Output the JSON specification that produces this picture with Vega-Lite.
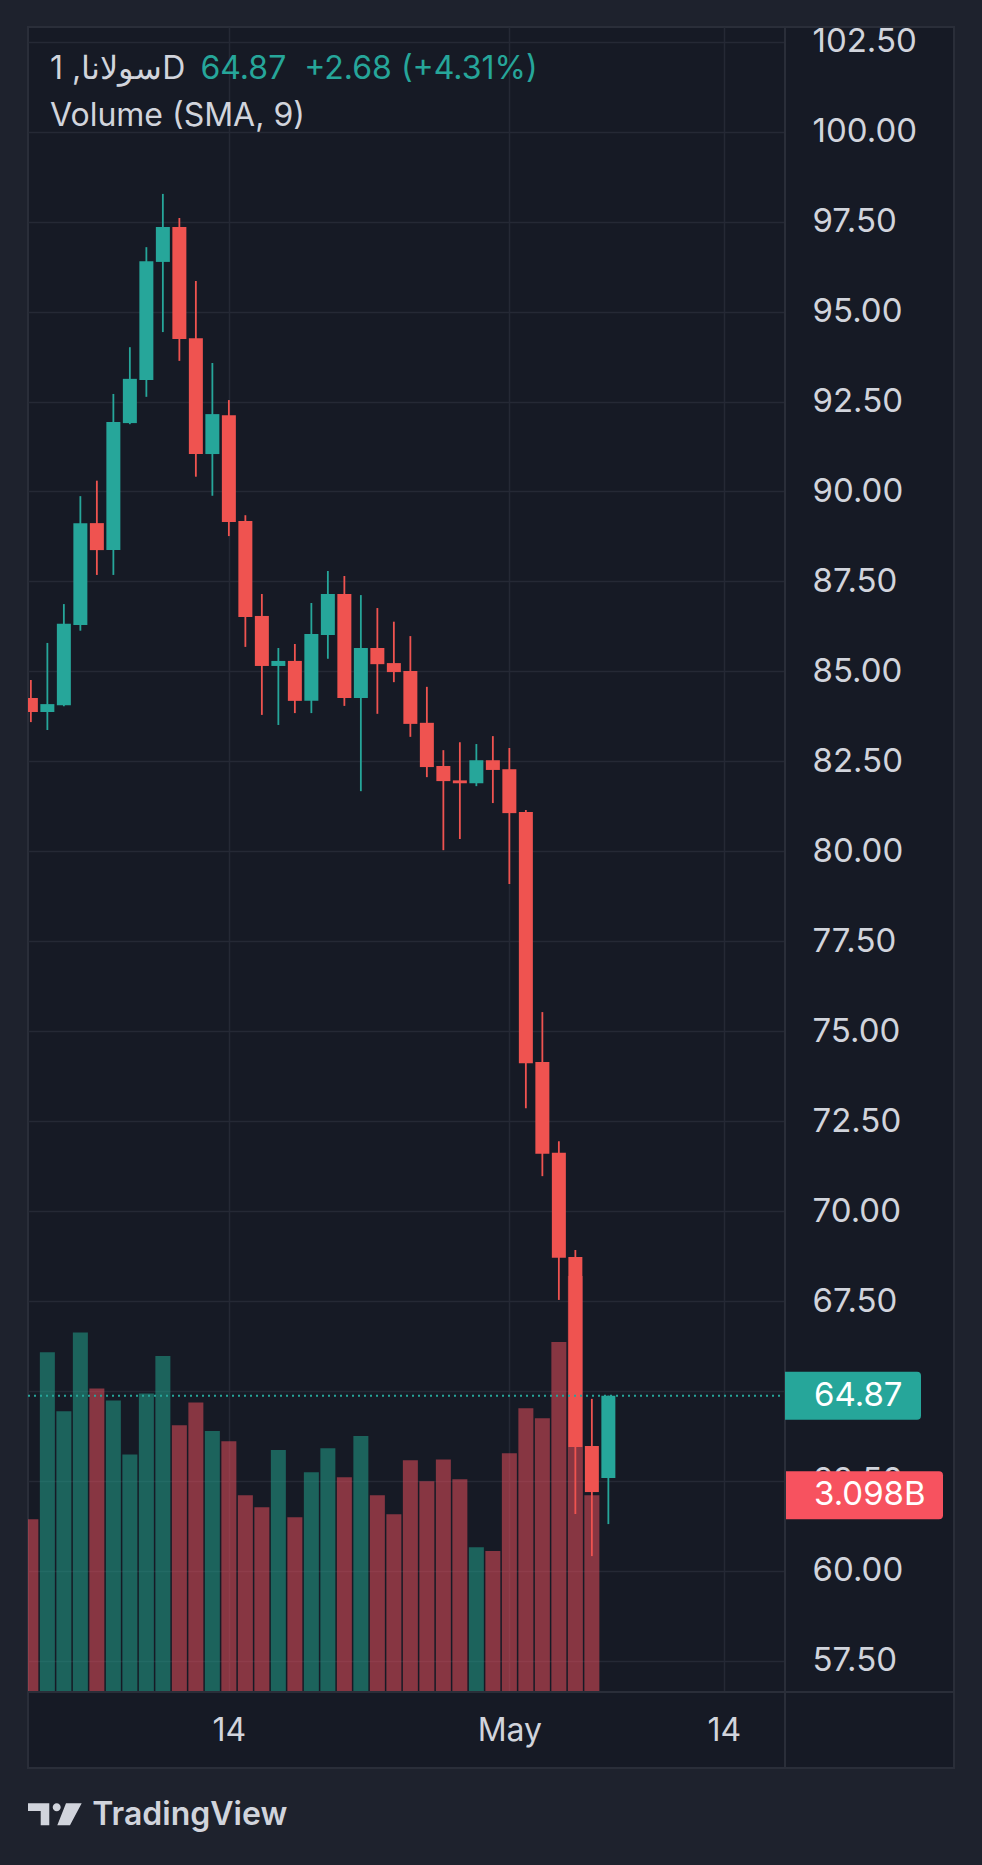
{
  "$schema": "https://vega.github.io/schema/vega-lite/v6.json",
  "description": "Solana daily candles with volume, dark TradingView style",
  "width": 926,
  "height": 1741,
  "autosize": {"type": "none"},
  "padding": {"left": 28, "top": 27, "right": 28, "bottom": 97},
  "background": "#1e222d",
  "view": {"fill": "#161a25", "stroke": "#2a2e39", "strokeWidth": 2},
  "datasets": {
    "candles": [
      {"date": "2025-04-02", "open": 84.26, "high": 84.76, "low": 83.59, "close": 83.87, "volume": 2720000000},
      {"date": "2025-04-03", "open": 83.87, "high": 85.79, "low": 83.37, "close": 84.09, "volume": 5350000000},
      {"date": "2025-04-04", "open": 84.06, "high": 86.87, "low": 84.03, "close": 86.32, "volume": 4420000000},
      {"date": "2025-04-05", "open": 86.29, "high": 89.87, "low": 86.13, "close": 89.12, "volume": 5660000000},
      {"date": "2025-04-06", "open": 89.12, "high": 90.3, "low": 87.68, "close": 88.37, "volume": 4780000000},
      {"date": "2025-04-07", "open": 88.37, "high": 92.71, "low": 87.68, "close": 91.93, "volume": 4590000000},
      {"date": "2025-04-08", "open": 91.9, "high": 94.01, "low": 91.87, "close": 93.13, "volume": 3740000000},
      {"date": "2025-04-09", "open": 93.1, "high": 96.79, "low": 92.63, "close": 96.4, "volume": 4700000000},
      {"date": "2025-04-10", "open": 96.38, "high": 98.27, "low": 94.43, "close": 97.35, "volume": 5290000000},
      {"date": "2025-04-11", "open": 97.35, "high": 97.6, "low": 93.63, "close": 94.24, "volume": 4200000000},
      {"date": "2025-04-12", "open": 94.26, "high": 95.85, "low": 90.41, "close": 91.04, "volume": 4560000000},
      {"date": "2025-04-13", "open": 91.04, "high": 93.57, "low": 89.88, "close": 92.15, "volume": 4110000000},
      {"date": "2025-04-14", "open": 92.12, "high": 92.54, "low": 88.76, "close": 89.15, "volume": 3950000000},
      {"date": "2025-04-15", "open": 89.18, "high": 89.34, "low": 85.68, "close": 86.51, "volume": 3100000000},
      {"date": "2025-04-16", "open": 86.54, "high": 87.15, "low": 83.79, "close": 85.15, "volume": 2910000000},
      {"date": "2025-04-17", "open": 85.15, "high": 85.65, "low": 83.51, "close": 85.29, "volume": 3810000000},
      {"date": "2025-04-18", "open": 85.29, "high": 85.76, "low": 83.84, "close": 84.18, "volume": 2750000000},
      {"date": "2025-04-19", "open": 84.18, "high": 86.9, "low": 83.84, "close": 86.04, "volume": 3460000000},
      {"date": "2025-04-20", "open": 86.01, "high": 87.79, "low": 85.35, "close": 87.15, "volume": 3840000000},
      {"date": "2025-04-21", "open": 87.15, "high": 87.65, "low": 84.04, "close": 84.26, "volume": 3380000000},
      {"date": "2025-04-22", "open": 84.26, "high": 87.12, "low": 81.67, "close": 85.65, "volume": 4030000000},
      {"date": "2025-04-23", "open": 85.65, "high": 86.76, "low": 83.82, "close": 85.2, "volume": 3100000000},
      {"date": "2025-04-24", "open": 85.23, "high": 86.38, "low": 84.7, "close": 84.98, "volume": 2800000000},
      {"date": "2025-04-25", "open": 85.01, "high": 85.98, "low": 83.18, "close": 83.54, "volume": 3650000000},
      {"date": "2025-04-26", "open": 83.57, "high": 84.57, "low": 82.06, "close": 82.34, "volume": 3320000000},
      {"date": "2025-04-27", "open": 82.37, "high": 82.81, "low": 80.03, "close": 81.95, "volume": 3660000000},
      {"date": "2025-04-28", "open": 81.97, "high": 83.03, "low": 80.34, "close": 81.89, "volume": 3350000000},
      {"date": "2025-04-29", "open": 81.89, "high": 82.98, "low": 81.81, "close": 82.53, "volume": 2280000000},
      {"date": "2025-04-30", "open": 82.53, "high": 83.2, "low": 81.34, "close": 82.26, "volume": 2220000000},
      {"date": "2025-05-01", "open": 82.28, "high": 82.87, "low": 79.09, "close": 81.06, "volume": 3760000000},
      {"date": "2025-05-02", "open": 81.09, "high": 81.15, "low": 72.86, "close": 74.11, "volume": 4470000000},
      {"date": "2025-05-03", "open": 74.14, "high": 75.53, "low": 70.97, "close": 71.59, "volume": 4310000000},
      {"date": "2025-05-04", "open": 71.62, "high": 71.94, "low": 67.53, "close": 68.7, "volume": 5510000000},
      {"date": "2025-05-05", "open": 68.72, "high": 68.92, "low": 61.58, "close": 63.44, "volume": 6550000000},
      {"date": "2025-05-06", "open": 63.47, "high": 64.78, "low": 60.41, "close": 62.19, "volume": 3098000000},
      {"date": "2025-05-07", "open": 62.58, "high": 64.87, "low": 61.3, "close": 64.87, "volume": null}
    ]
  },
  "data": {"name": "candles"},
  "resolve": {"scale": {"y": "independent"}},
  "layer": [
    {
      "layer": [
        {
          "mark": {"type": "bar", "size": 15, "opacity": 0.5, "clip": true},
          "encoding": {
            "x": {
              "field": "date", "type": "temporal", "axis": null,
              "scale": {
                "type": "utc", "nice": false, "padding": 0, "range": [0, 757],
                "domain": [
                  {"year": 2025, "month": 4, "date": 1, "hours": 19, "minutes": 50, "utc": true},
                  {"year": 2025, "month": 5, "date": 17, "hours": 16, "minutes": 56, "utc": true}
                ]
              }
            },
            "y": {
              "field": "volume", "type": "quantitative", "axis": null,
              "scale": {"domain": [0, 26220000000], "range": [1665, 0], "nice": false}
            },
            "color": {
              "condition": {"test": "datum.close >= datum.open", "value": "#22ab94"},
              "value": "#f7525f"
            }
          }
        },
        {
          "transform": [{"filter": "time(datum.date) == utc(2025, 4, 6)"}],
          "mark": {
            "type": "point", "filled": true, "opacity": 1, "strokeWidth": 0, "color": "#f7525f",
            "size": 24964,
            "shape": "M0,-0.304L1.949,-0.304Q2,-0.304 2,-0.253L2,0.253Q2,0.304 1.949,0.304L0,0.304Z"
          },
          "encoding": {
            "x": {"datum": {"year": 2025, "month": 5, "date": 17, "hours": 16, "minutes": 56, "utc": true}, "type": "temporal", "axis": null},
            "y": {"field": "volume", "type": "quantitative", "axis": null}
          }
        },
        {
          "transform": [
            {"filter": "time(datum.date) == utc(2025, 4, 6)"},
            {"calculate": "format(datum.volume / 1e9, '.3f') + 'B'", "as": "volume_label"}
          ],
          "mark": {"type": "text", "align": "left", "baseline": "middle", "dx": 29, "font": "Inter", "fontSize": 33, "color": "#ffffff"},
          "encoding": {
            "x": {"datum": {"year": 2025, "month": 5, "date": 17, "hours": 16, "minutes": 56, "utc": true}, "type": "temporal", "axis": null},
            "y": {"field": "volume", "type": "quantitative", "axis": null},
            "text": {"field": "volume_label"}
          }
        }
      ]
    },
    {
      "resolve": {"axis": {"x": "independent", "y": "independent"}},
      "layer": [
        {
          "mark": {"type": "rule", "strokeWidth": 1.8, "clip": true},
          "encoding": {
            "x": {
              "field": "date", "type": "temporal",
              "axis": {
                "orient": "top", "title": null, "labels": false, "ticks": false, "domain": false,
                "values": [
                  {"year": 2025, "month": 4, "date": 14, "utc": true},
                  {"year": 2025, "month": 5, "date": 1, "utc": true},
                  {"year": 2025, "month": 5, "date": 14, "utc": true}
                ],
                "grid": true, "gridColor": "#252935", "gridWidth": 1.5
              }
            },
            "y": {
              "field": "low", "type": "quantitative",
              "scale": {"domain": [56.633, 102.909], "range": [1665, 0], "nice": false, "zero": false},
              "axis": {
                "orient": "left", "title": null, "labels": false, "ticks": false, "domain": false,
                "values": [57.5, 60, 62.5, 65, 67.5, 70, 72.5, 75, 77.5, 80, 82.5, 85, 87.5, 90, 92.5, 95, 97.5, 100, 102.5],
                "grid": true, "gridColor": "#252935", "gridWidth": 1.5
              }
            },
            "y2": {"field": "high"},
            "color": {
              "condition": {"test": "datum.close >= datum.open", "value": "#26a69a"},
              "value": "#ef5350"
            }
          }
        },
        {
          "mark": {"type": "bar", "size": 14, "clip": true},
          "encoding": {
            "x": {
              "field": "date", "type": "temporal",
              "axis": {
                "orient": "bottom", "offset": -76, "title": null,
                "values": [
                  {"year": 2025, "month": 4, "date": 14, "utc": true},
                  {"year": 2025, "month": 5, "date": 1, "utc": true},
                  {"year": 2025, "month": 5, "date": 14, "utc": true}
                ],
                "labelExpr": "utcdate(datum.value) == 1 ? utcFormat(datum.value, '%b') : utcFormat(datum.value, '%-d')",
                "labelPadding": 38, "labelBaseline": "middle", "labelAlign": "center",
                "labelFlush": false, "labelOverlap": false, "labelFontSize": 32,
                "ticks": false, "domain": false, "grid": false
              }
            },
            "y": {
              "field": "open", "type": "quantitative",
              "axis": {
                "orient": "right", "offset": -169, "title": null,
                "values": [57.5, 60, 62.5, 67.5, 70, 72.5, 75, 77.5, 80, 82.5, 85, 87.5, 90, 92.5, 95, 97.5, 100, 102.5],
                "format": ".2f",
                "labelPadding": 27, "labelAlign": "left", "labelBaseline": "middle",
                "labelFlush": false, "labelOverlap": false,
                "ticks": false, "domain": false, "grid": false
              }
            },
            "y2": {"field": "close"},
            "color": {
              "condition": {"test": "datum.close >= datum.open", "value": "#26a69a"},
              "value": "#ef5350"
            }
          }
        },
        {
          "transform": [{"filter": "time(datum.date) == utc(2025, 4, 7)"}],
          "mark": {"type": "rule", "color": "#26a69a", "strokeWidth": 2, "strokeDash": [2, 4]},
          "encoding": {
            "x": {"datum": {"year": 2025, "month": 4, "date": 1, "hours": 19, "minutes": 50, "utc": true}, "type": "temporal", "axis": null},
            "x2": {"datum": {"year": 2025, "month": 5, "date": 17, "hours": 16, "minutes": 56, "utc": true}},
            "y": {"field": "close", "type": "quantitative", "axis": null}
          }
        },
        {
          "data": {"values": [{}]},
          "mark": {"type": "rule", "color": "#2a2e39", "strokeWidth": 2},
          "encoding": {
            "x": {"datum": {"year": 2025, "month": 5, "date": 17, "hours": 16, "minutes": 56, "utc": true}, "type": "temporal", "axis": null}
          }
        },
        {
          "data": {"values": [{}]},
          "mark": {"type": "rule", "color": "#2a2e39", "strokeWidth": 2},
          "encoding": {
            "y": {"datum": 56.633, "type": "quantitative", "axis": null}
          }
        },
        {
          "transform": [{"filter": "time(datum.date) == utc(2025, 4, 7)"}],
          "mark": {
            "type": "point", "filled": true, "opacity": 1, "strokeWidth": 0, "color": "#26a69a",
            "size": 18496,
            "shape": "M0,-0.353L1.941,-0.353Q2,-0.353 2,-0.294L2,0.294Q2,0.353 1.941,0.353L0,0.353Z"
          },
          "encoding": {
            "x": {"datum": {"year": 2025, "month": 5, "date": 17, "hours": 16, "minutes": 56, "utc": true}, "type": "temporal", "axis": null},
            "y": {"field": "close", "type": "quantitative", "axis": null}
          }
        },
        {
          "transform": [{"filter": "time(datum.date) == utc(2025, 4, 7)"}],
          "mark": {"type": "text", "align": "left", "baseline": "middle", "dx": 29, "font": "Inter", "fontSize": 33, "color": "#ffffff"},
          "encoding": {
            "x": {"datum": {"year": 2025, "month": 5, "date": 17, "hours": 16, "minutes": 56, "utc": true}, "type": "temporal", "axis": null},
            "y": {"field": "close", "type": "quantitative", "axis": null},
            "text": {"field": "close", "format": ".2f"}
          }
        },
        {
          "data": {"values": [{}]},
          "mark": {"type": "text", "align": "left", "baseline": "alphabetic", "font": "Inter", "fontSize": 32, "color": "#d1d4dc"},
          "encoding": {
            "x": {"datum": {"year": 2025, "month": 4, "date": 3, "hours": 3, "minutes": 50, "utc": true}, "type": "temporal", "axis": null},
            "y": {"datum": 101.45, "type": "quantitative", "axis": null},
            "text": {"value": "سولانا, 1D"}
          }
        },
        {
          "data": {"values": [{}]},
          "mark": {"type": "text", "align": "left", "baseline": "alphabetic", "font": "Inter", "fontSize": 32, "color": "#26a69a"},
          "encoding": {
            "x": {"datum": {"year": 2025, "month": 4, "date": 12, "hours": 6, "minutes": 36, "utc": true}, "type": "temporal", "axis": null},
            "y": {"datum": 101.45, "type": "quantitative", "axis": null},
            "text": {"value": "64.87\u00a0 +2.68 (+4.31%)"}
          }
        },
        {
          "data": {"values": [{}]},
          "mark": {"type": "text", "align": "left", "baseline": "alphabetic", "font": "Inter", "fontSize": 32, "color": "#d1d4dc"},
          "encoding": {
            "x": {"datum": {"year": 2025, "month": 4, "date": 3, "hours": 3, "minutes": 50, "utc": true}, "type": "temporal", "axis": null},
            "y": {"datum": 100.157, "type": "quantitative", "axis": null},
            "text": {"value": "Volume (SMA, 9)"}
          }
        },
        {
          "data": {"values": [{}]},
          "mark": {
            "type": "point", "filled": true, "opacity": 1, "strokeWidth": 0, "color": "#d1d4dc",
            "size": 2916,
            "shape": "M-0.994,-0.407L-0.206,-0.407L-0.206,0.407L-0.524,0.407L-0.524,-0.122L-0.994,-0.122Z M-0.079,-0.259A0.148,0.148 0 1 0 0.217,-0.259A0.148,0.148 0 1 0 -0.079,-0.259Z M0.413,-0.407L0.994,-0.407L0.561,0.407L0.091,0.407Z"
          },
          "encoding": {
            "x": {"datum": {"year": 2025, "month": 4, "date": 3, "hours": 10, "minutes": 53, "utc": true}, "type": "temporal", "axis": null},
            "y": {"datum": 53.234, "type": "quantitative", "axis": null}
          }
        },
        {
          "data": {"values": [{}]},
          "mark": {"type": "text", "align": "left", "baseline": "alphabetic", "font": "Inter", "fontSize": 32, "fontWeight": 600, "color": "#d1d4dc"},
          "encoding": {
            "x": {"datum": {"year": 2025, "month": 4, "date": 5, "hours": 17, "minutes": 20, "utc": true}, "type": "temporal", "axis": null},
            "y": {"datum": 52.93, "type": "quantitative", "axis": null},
            "text": {"value": "TradingView"}
          }
        }
      ]
    }
  ],
  "config": {
    "font": "Inter",
    "axis": {
      "labelFont": "Inter",
      "labelFontSize": 33,
      "labelColor": "#d1d4dc"
    }
  }
}
